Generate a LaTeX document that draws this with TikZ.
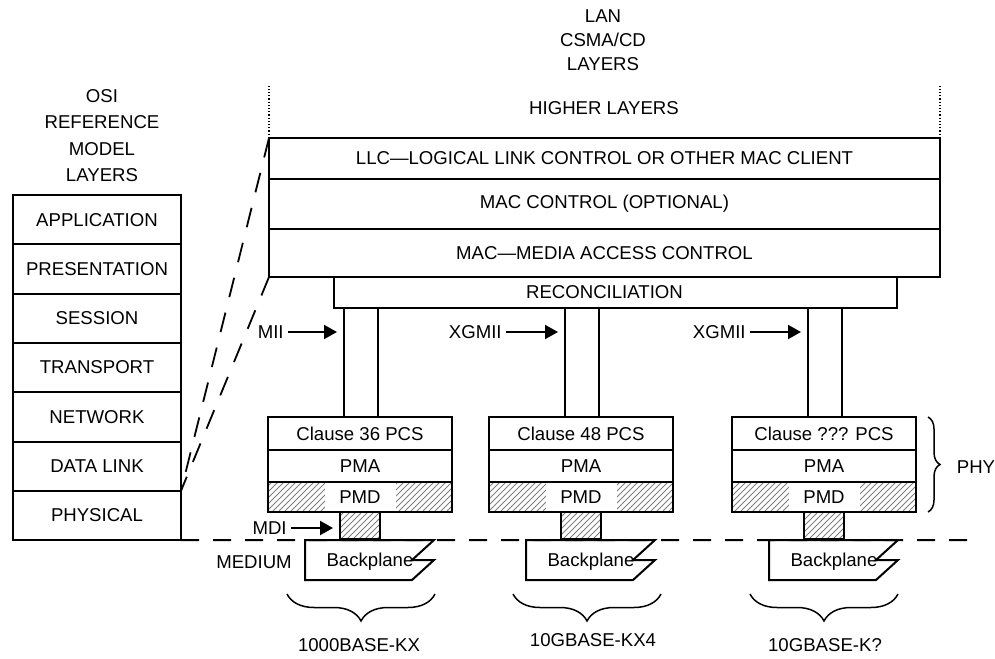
\documentclass[tikz,border=0pt]{standalone}
\usepackage{fontspec}
\setmainfont{Liberation Sans}
\usetikzlibrary{positioning}
\usetikzlibrary{arrows.meta}
\usetikzlibrary{patterns}
\usetikzlibrary{decorations.pathreplacing}
\tikzset{
  stack style/.style={
    x=0.5pt,
    y=-0.5pt,
    every node/.style={font=\fontsize{9.3}{11}\selectfont},
  },
  layer box/.style={
    draw,
    line width=1pt,
    inner sep=0pt,
    outer sep=0pt,
  },
  osi layer/.style={
    layer box,
    minimum width=84pt,
    minimum height=24.65pt,
  },
  lan layer/.style={
    layer box,
    minimum width=335.5pt,
  },
  phy row/.style={
    layer box,
    minimum width=92pt,
  },
  bus/.style={
    layer box,
    minimum width=17pt,
    minimum height=54.5pt,
  },
  hatched/.style={
    pattern=north east lines,
    pattern color=gray,
  },
  if arrow/.style={
    line width=1pt,
    -{Triangle[length=6.5pt,width=7pt]},
    shorten >=3.5pt,
  },
  osi link/.style={
    line width=0.9pt,
    dash pattern=on 10pt off 8pt,
  },
  medium line/.style={
    line width=1pt,
    dash pattern=on 9pt off 7pt,
  },
  span brace/.style={
    decorate,
    line width=0.75pt,
  },
}

\begin{document}
\begin{tikzpicture}[stack style]
  \useasboundingbox (0,0) rectangle (995,658);
  % OSI reference model
  \node[align=center, font=\fontsize{9.3}{13.2}\selectfont] (osititle) at (102,135.5)
    {OSI\\REFERENCE\\MODEL\\LAYERS};
  \node[osi layer] (app) at (97,219.65) {APPLICATION};
  \node[osi layer, below=0pt of app] (pres) {PRESENTATION};
  \node[osi layer, below=0pt of pres] (sess) {SESSION};
  \node[osi layer, below=0pt of sess] (trans) {TRANSPORT};
  \node[osi layer, below=0pt of trans] (net) {NETWORK};
  \node[osi layer, below=0pt of net] (dlink) {DATA LINK};
  \node[osi layer, below=0pt of dlink] (phys) {PHYSICAL};

  % LAN CSMA/CD layers
  \node[align=center, font=\fontsize{9.3}{12}\selectfont] (lantitle) at (603,40)
    {LAN\\CSMA/CD\\LAYERS};
  \node (higher) at (604,108) {HIGHER LAYERS};
  \node[lan layer, minimum height=20.5pt] (llc) at (604.5,158.5)
    {LLC—LOGICAL LINK CONTROL OR OTHER MAC CLIENT};
  \node[lan layer, minimum height=25pt, below=0pt of llc] (macctl) {MAC CONTROL (OPTIONAL)};
  \node[lan layer, minimum height=24pt, below=0pt of macctl] (mac) {MAC—MEDIA ACCESS CONTROL};
  \node[layer box, minimum width=281.5pt, minimum height=15.5pt, anchor=north west]
    (recon) at (334,277) {};
  \node (recontext) at (mac.south |- recon) {RECONCILIATION};
  \draw[densely dotted, line width=0.6pt] (llc.north west) -- ++(0,-53);
  \draw[densely dotted, line width=0.6pt] (llc.north east) -- ++(0,-53);

  \draw[osi link] (llc.north west) -- (dlink.south east);
  \draw[osi link] (mac.south west) -- (dlink.south east);

  \coordinate (medend) at (970,540);
  \draw[medium line] (phys.south east) -- (medend);

  % PHY columns
  \foreach \i/\cx/\pcs in {1/360/36, 2/581/48, 3/824/???} {
    \node[bus] (bus\i) at (\cx+1,362.5) {};
    \node[phy row, minimum height=16.5pt, anchor=north] (pcs\i) at (\cx,417) {Clause \pcs{} PCS};
    \node[phy row, minimum height=16pt, below=0pt of pcs\i] (pma\i) {PMA};
    \node[phy row, hatched, minimum height=15pt, below=0pt of pma\i] (pmd\i) {};
    \node[fill=white, inner sep=0pt, minimum width=35.5pt, minimum height=14pt] (pmdtext\i) at (pmd\i) {PMD};
    \node[layer box, hatched, minimum width=20pt, minimum height=13.5pt, below=0pt of pmd\i] (mdi\i) {};
    \node (bp\i) at (\cx+10,562) {Backplane};
    \draw[line width=1pt] (\cx-55,540) -- (\cx+74,540) -- (\cx+52,560) -- (\cx+74,560)
      -- (\cx+52,580) -- (\cx-55,580) -- cycle;
  }

  \foreach \i/\lx/\txt in {1/288/MII, 2/506/XGMII, 3/750/XGMII} {
    \node[anchor=east, inner sep=2pt] (iface\i) at (\lx,332) {\txt};
    \draw[if arrow] (iface\i.east) -- (iface\i.east -| bus\i.west);
  }

  \node[anchor=east, inner sep=2pt] (mdi) at (291,528) {MDI};
  \draw[if arrow] (mdi.east) -- (mdi.east -| mdi1.west);
  \node (medium) at (254,562) {MEDIUM};

  % spans
  \foreach \i/\bx/\lx/\ly/\name in {1/361/359/645/1000BASE-KX, 2/587/593/640/10GBASE-KX4, 3/824/825/645/10GBASE-K?} {
    \draw[span brace, decoration={brace, mirror, amplitude=13.5pt}] (\bx-74,594) -- (\bx+74,594);
    \node (std\i) at (\lx,\ly) {\name};
  }
  \draw[span brace, decoration={brace, amplitude=6pt}] (928,417) -- (928,512);
  \node (phy) at (976,467) {PHY};
\end{tikzpicture}
\end{document}
